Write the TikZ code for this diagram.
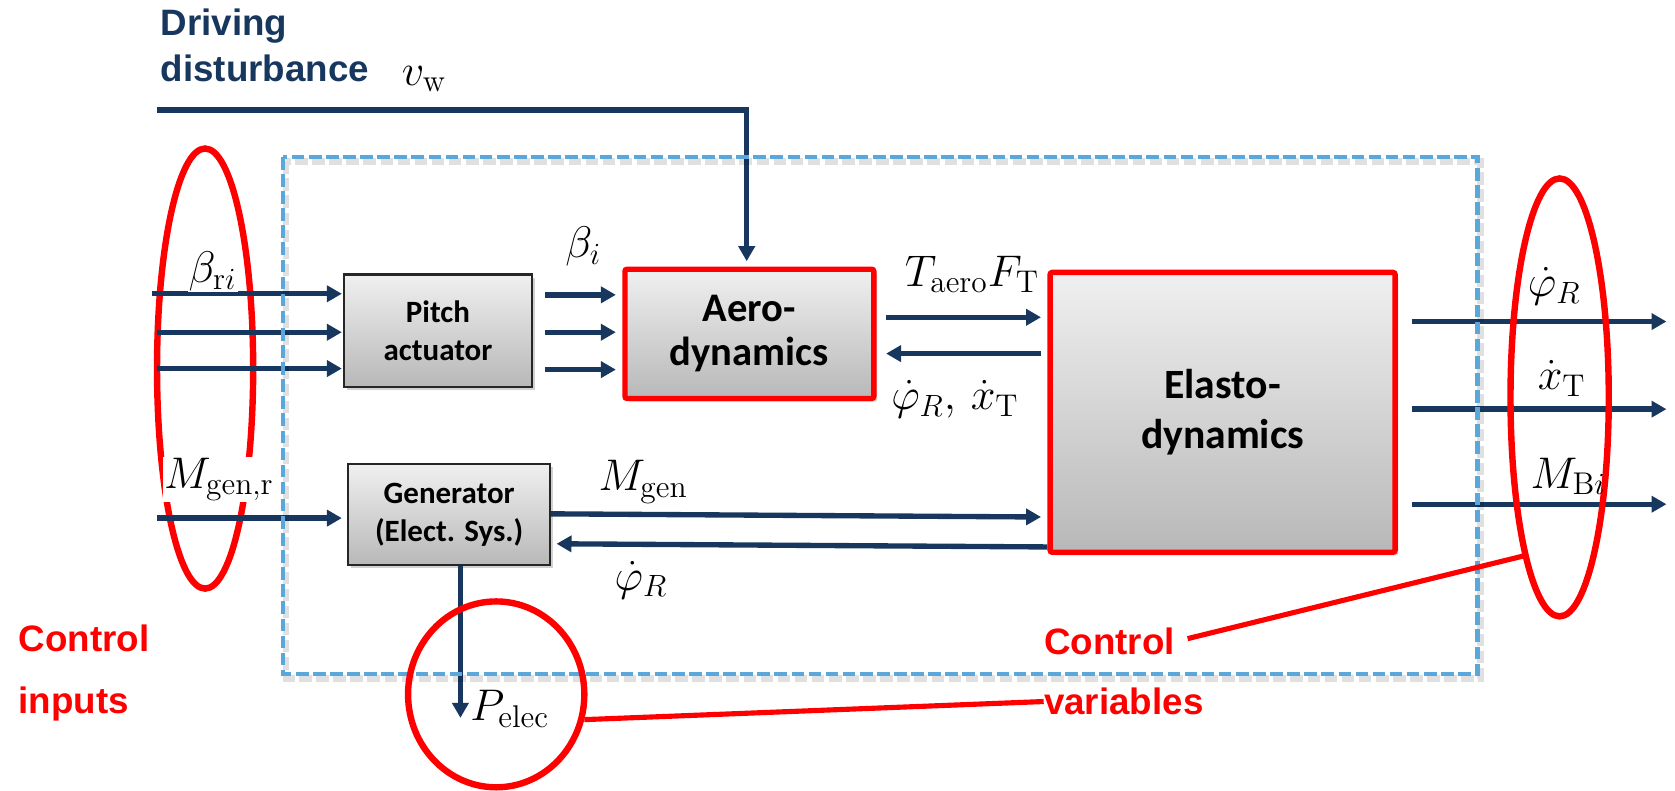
\documentclass[tikz,border=0pt]{standalone}
\usepackage{fontspec}
\newfontfamily\arialfont{Liberation Sans}
\newfontfamily\calfont{Carlito}
\usetikzlibrary{arrows.meta,shapes.geometric,shadows,calc}
\definecolor{dblue}{RGB}{23,55,94}
\definecolor{lblue}{RGB}{91,166,218}
\definecolor{boxtop}{RGB}{240,240,240}
\definecolor{boxbot}{RGB}{184,184,184}
\begin{document}
\begin{tikzpicture}[x=0.5pt,y=-0.5pt,
  arr/.style={draw=dblue, line width=2.5pt, -{Triangle[length=7pt,width=7.5pt]}},
  blk/.style={draw=black!85, line width=1pt, top color=boxtop, bottom color=boxbot,
    align=center, inner sep=0pt,
    drop shadow={shadow xshift=1.5pt, shadow yshift=-1.5pt, opacity=0.3, fill=black!60},
    font=\calfont\bfseries\fontsize{14.5}{17.8}\selectfont},
  redblk/.style={blk, draw=red, line width=2.5pt, rounded corners=1pt},
  mlab/.style={font=\fontsize{21}{25}\selectfont, inner sep=1pt},
  redell/.style={draw=red, line width=3pt, ellipse, inner sep=0pt},
  redline/.style={draw=red, line width=2.4pt},
  rtext/.style={text=red, font=\arialfont\bfseries\fontsize{17.2}{20}\selectfont, inner sep=0pt},
  btext/.style={text=dblue, font=\arialfont\bfseries\fontsize{17.2}{20}\selectfont, inner sep=0pt},
  dashbox/.style={line width=2pt, dash pattern=on 5.9pt off 2.1pt}
]
\useasboundingbox (0,0) rectangle (1568,740);

% left ellipse (below the arrows)
\node[redell, minimum width=45pt, minimum height=206pt] (lell) at (192,345) {};

% blocks
\node[blk, minimum width=88pt, minimum height=52.5pt] (pitch) at (410,309.5) {Pitch\\actuator};
\node[redblk, minimum width=116.5pt, minimum height=60.5pt,
  font=\calfont\bfseries\fontsize{19}{20.5}\selectfont] (aero) at (701.5,312.5) {Aero-\\dynamics};
\node[redblk, minimum width=161.5pt, minimum height=131pt,
  font=\calfont\bfseries\fontsize{19.5}{23.5}\selectfont] (elasto) at (1144.5,386) {Elasto-\\dynamics};
\node[blk, minimum width=94.5pt, minimum height=47.5pt] (gen) at (420.5,481.5) {Generator\\(Elect. Sys.)};

% driving disturbance
\node[btext, anchor=base west] (drv1) at (150,33) {Driving};
\node[btext, anchor=base west] (drv2) at (150,76) {disturbance};
\node[mlab] (vw) at (397,74) {$v_{\mathrm{w}}$};
\coordinate (vwin) at (147,103);
\coordinate (vwc) at (699,103);
\draw[arr, shorten >=2.5pt] (vwin) -- (vwc) -- (vwc |- aero.north);

% pitch inputs
\coordinate (in1) at (142,275);
\coordinate (in2) at (147,311);
\coordinate (in3) at (147,345);
\foreach \c in {in1,in2,in3}
  \draw[arr, shorten >=0.5pt] (\c) -- (pitch.west |- \c);

% pitch -> aero
\foreach \yy in {276,311,346}
  \draw[arr, shorten <=5.5pt, shorten >=3pt] (pitch.east |- 0,\yy) -- (aero.west |- 0,\yy);

% aero <-> elasto
\draw[arr, shorten <=4.5pt, shorten >=3pt] (aero.east |- 0,297) -- (elasto.west |- 0,297);
\draw[arr, shorten <=3pt, shorten >=4.5pt] (elasto.west |- 0,331) -- (aero.east |- 0,331);

% generator
\coordinate (mgr) at (147,485);
\draw[arr, shorten >=2.5pt] (mgr) -- (gen.west |- mgr);
\draw[arr, shorten >=3pt] (gen.east |- 0,481) -- (elasto.west |- 0,484);
\draw[arr, shorten >=2.5pt] (elasto.west |- 0,512) -- (gen.east |- 0,509);
\coordinate (pe) at (431,672);
\draw[arr] (gen.south -| pe) -- (pe);

% outputs
\coordinate (o1) at (1560,301);
\coordinate (o2) at (1560,383);
\coordinate (o3) at (1560,472);
\foreach \c in {o1,o2,o3}
  \draw[arr, shorten <=6.5pt] (elasto.east |- \c) -- (\c);

% dashed system boundary (over the arrows)
\draw[dashbox, black, opacity=0.12, line width=3pt] (268,151) rectangle (1386,635);
\draw[dashbox, lblue] (265,147) rectangle (1383,631);

% right ellipse and circle (over the arrows)
\node[redell, minimum width=46pt, minimum height=205pt] (rell) at (1460,372) {};
\node[redell, minimum width=82.5pt, minimum height=87pt] (pcirc) at (464.5,650) {};

% math labels
\node[mlab, fill=white, inner sep=0.5pt] (bri) at (199,254) {$\beta_{\mathrm{r}i}$};
\node[mlab] (bi) at (546,231) {$\beta_i$};
\node[mlab] (tf) at (910,257) {$T_{\mathrm{aero}}F_{\mathrm{T}}$};
\node[mlab] (px) at (894,374) {$\dot\varphi_R,\,\dot x_{\mathrm{T}}$};
\node[mlab] (mg) at (602,451) {$M_{\mathrm{gen}}$};
\node[mlab] (pr2) at (600,543) {$\dot\varphi_R$};
\node[mlab] (pr) at (1455,268) {$\dot\varphi_R$};
\node[mlab] (xt) at (1462,354) {$\dot x_{\mathrm{T}}$};
\node[mlab] (mbi) at (1468,446) {$M_{\mathrm{B}i}$};
\node[mlab, fill=white, inner sep=0.5pt] (mgrl) at (205,449) {$M_{\mathrm{gen,r}}$};
\node[mlab, anchor=west] (pel) at (438,664) {$P_{\mathrm{elec}}$};

% red annotations
\node[rtext, anchor=base west] (ci1) at (17,610) {Control};
\node[rtext, anchor=base west] (ci2) at (17,668) {inputs};
\node[rtext, anchor=base west] (cv1) at (977,613) {Control};
\node[rtext, anchor=base west] (cv2) at (977,669) {variables};
\draw[redline, shorten <=6pt] (cv1.east) -- (rell.257);
\draw[redline] (pcirc.-16) -- (cv2.west);
\end{tikzpicture}
\end{document}
